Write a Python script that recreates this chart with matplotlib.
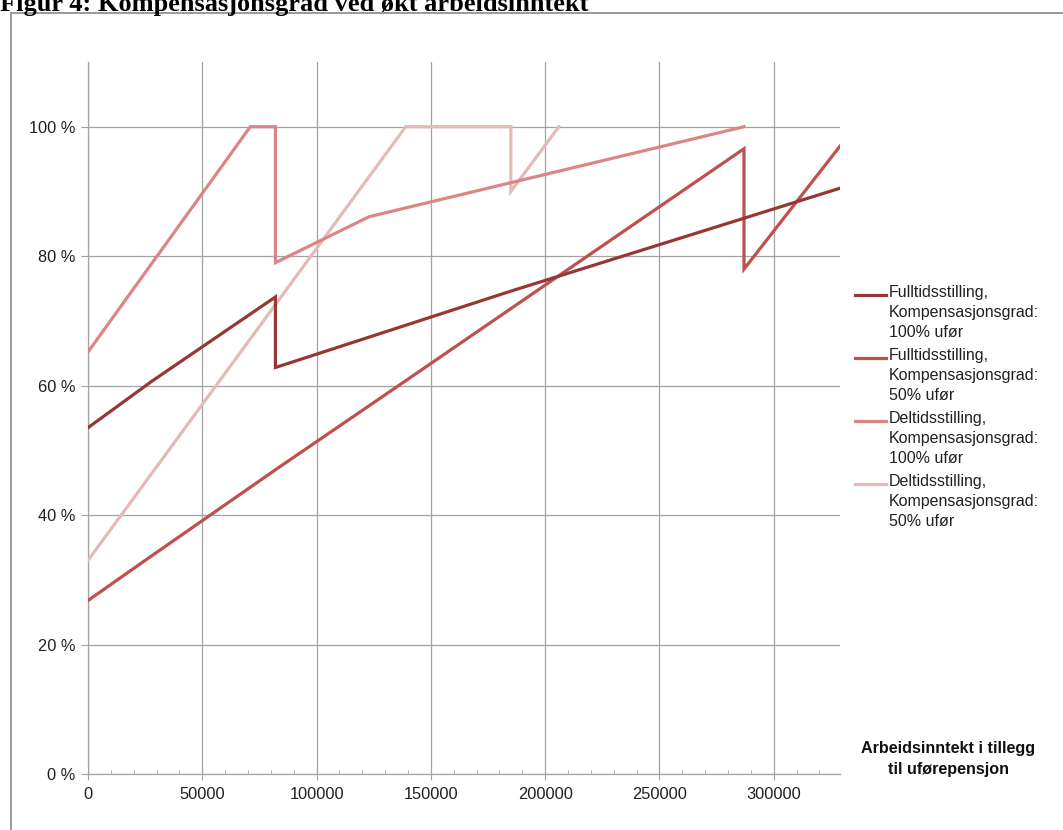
import matplotlib
matplotlib.use("Agg")
import matplotlib.pyplot as plt
from matplotlib.lines import Line2D
from matplotlib.ticker import MultipleLocator

# Kompensasjonsgrad (%) som funksjon av arbeidsinntekt i tillegg til uførepensjon
full_100_x = [0, 28000, 82000, 82000, 185000, 329000]
full_100_y = [53.5, 60.7, 73.7, 62.8, 74.6, 90.5]

full_50_x = [0, 25000, 82000, 140000, 287000, 287000, 329000]
full_50_y = [26.8, 33.0, 47.0, 61.0, 96.6, 78.0, 97.0]

deltid_100_x = [0, 71000, 82000, 82000, 123000, 287000]
deltid_100_y = [65.2, 100, 100, 79.0, 86.1, 100]

deltid_50_x = [0, 139000, 185000, 185000, 206000]
deltid_50_y = [33.0, 100, 100, 90.0, 100]

series_labels = [
    "Fulltidsstilling,\nKompensasjonsgrad:\n100% ufør",
    "Fulltidsstilling,\nKompensasjonsgrad:\n50% ufør",
    "Deltidsstilling,\nKompensasjonsgrad:\n100% ufør",
    "Deltidsstilling,\nKompensasjonsgrad:\n50% ufør",
]
series_colors = ["#953735", "#c0504d", "#d98684", "#e6b9b8"]

y_ticks = [0, 20, 40, 60, 80, 100]
x_ticks = [0, 50000, 100000, 150000, 200000, 250000, 300000]

plt.rcParams["font.family"] = ["Liberation Sans", "DejaVu Sans"]

W, H = 1063, 830
fig = plt.figure(figsize=(W / 100, H / 100), dpi=100)
ax = fig.add_axes([88 / W, 1 - 774 / H, (840 - 88) / W, (774 - 62) / H])

series = [
    (full_100_x, full_100_y),
    (full_50_x, full_50_y),
    (deltid_100_x, deltid_100_y),
    (deltid_50_x, deltid_50_y),
]
# draw the lightest series first so the darker ones sit on top
for (xs, ys), col in reversed(list(zip(series, series_colors))):
    ax.plot(xs, ys, color=col, lw=2.3, solid_joinstyle="miter", zorder=3)

grid_col = "#a3a3a3"
ax.set_xlim(0, 329000)
ax.set_ylim(0, 110)
ax.set_yticks(y_ticks)
ax.set_yticklabels([f"{v} %" for v in y_ticks])
ax.set_xticks(x_ticks)
ax.set_xticklabels([str(v) for v in x_ticks])
ax.xaxis.set_minor_locator(MultipleLocator(10000))
ax.grid(True, which="major", color=grid_col, lw=0.9, zorder=1)
for s in ("top", "right"):
    ax.spines[s].set_visible(False)
for s in ("left", "bottom"):
    ax.spines[s].set_color(grid_col)
    ax.spines[s].set_linewidth(0.9)
ax.tick_params(axis="y", which="major", length=5, color=grid_col, pad=4,
               labelsize=11.8, labelcolor="#202020")
ax.tick_params(axis="x", which="major", length=4, color=grid_col, pad=5,
               labelsize=11.8, labelcolor="#202020")
ax.tick_params(axis="x", which="minor", length=3, direction="in", color=grid_col)

# legend: handle sits beside the first line of each entry
leg_top = 285
for i, (lab, col) in enumerate(zip(series_labels, series_colors)):
    y0 = leg_top + i * 63
    yc = 1 - (y0 + 10) / H
    fig.add_artist(Line2D([855 / W, 886 / W], [yc, yc], color=col, lw=2.3))
    fig.text(889 / W, 1 - y0 / H, lab, ha="left", va="top", fontsize=11.5,
             linespacing=1.42, color="#202020")

fig.text(948 / W, 1 - 759 / H, "Arbeidsinntekt i tillegg\ntil uførepensjon",
         ha="center", va="center", fontsize=11.6, fontweight="bold",
         linespacing=1.45, color="#101010")

# outer frame and figure heading
frame_col = "#9a9a9a"
fig.add_artist(Line2D([10.5 / W, 10.5 / W], [0, 1 - 13 / H], color=frame_col, lw=1.4))
fig.add_artist(Line2D([10.5 / W, 1], [1 - 13 / H, 1 - 13 / H], color=frame_col, lw=1.4))
fig.text(0, 1 - 11 / H, "Figur 4: Kompensasjonsgrad ved økt arbeidsinntekt",
         ha="left", va="baseline", fontsize=19, fontweight="bold",
         family=["Liberation Serif", "DejaVu Serif"])

fig.savefig("out.png", dpi=100)
